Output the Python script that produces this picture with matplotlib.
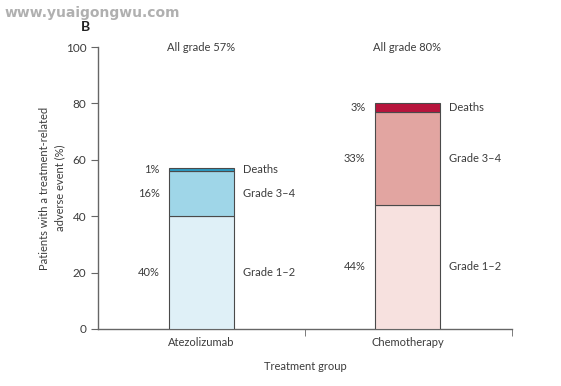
import matplotlib.pyplot as plt
import numpy as np

plt.rcParams['font.family'] = ['Lato', 'DejaVu Sans']

groups = ['Atezolizumab', 'Chemotherapy']
grade12 = [40, 44]
grade34 = [16, 33]
deaths = [1, 3]
all_grade = [57, 80]
segment_names = ['Grade 1\u20132', 'Grade 3\u20134', 'Deaths']

colors = [
    ['#dff0f7', '#9fd6e8', '#2b9bc3'],
    ['#f7e1df', '#e2a5a1', '#b7143c'],
]
text_col = '#3c3c3c'
axis_col = '#666666'

fig = plt.figure(figsize=(5.61, 3.86), dpi=100)
ax = fig.add_axes([0.1747, 0.1477, 0.738, 0.7305])

xpos = np.array([0.5, 1.495])
width = 0.314
for i, x in enumerate(xpos):
    segs = [grade12[i], grade34[i], deaths[i]]
    bottom = 0
    for j, val in enumerate(segs):
        ax.bar(x, val, width, bottom=bottom, color=colors[i][j],
               edgecolor='#4a4a4a', linewidth=0.8, zorder=3)
        mid = bottom + val / 2
        ax.text(x - width / 2 - 0.045, mid, f'{val}%', ha='right', va='center',
                fontsize=8, color=text_col)
        ax.text(x + width / 2 + 0.045, mid, segment_names[j], ha='left', va='center',
                fontsize=8, color=text_col)
        bottom += val
    ax.text(x, 100, f'All grade {all_grade[i]}%', ha='center', va='center',
            fontsize=8, color=text_col)

ax.set_xlim(0, 2)
ax.set_ylim(0, 100)
ax.set_yticks(range(0, 101, 20))
ax.set_xticks(xpos)
ax.set_xticklabels(groups, fontsize=8, color=text_col)
ax.set_xticks([1, 2], minor=True)
ax.tick_params(axis='x', which='major', length=0, pad=6)
ax.tick_params(axis='x', which='minor', length=5, color=axis_col, direction='out')
ax.tick_params(axis='y', length=5, color=axis_col, labelsize=8.5, labelcolor=text_col)

for side in ['top', 'right']:
    ax.spines[side].set_visible(False)
for side in ['left', 'bottom']:
    ax.spines[side].set_color(axis_col)
    ax.spines[side].set_linewidth(1.0)

ax.set_ylabel('Patients with a treatment-related\nadverse event (%)',
              fontsize=8, color=text_col, labelpad=0, linespacing=1.5)
ax.set_xlabel('Treatment group', fontsize=8, color=text_col, labelpad=9)

fig.text(0.152, 0.93, 'B', fontsize=10, fontweight='bold', color='#222222',
         ha='center', va='center')
fig.text(0.008, 0.966, 'www.yuaigongwu.com', fontsize=10, fontweight='bold',
         color='#b0b0b0', ha='left', va='center', family=['DejaVu Sans'])

fig.savefig('out.png', dpi=100)
